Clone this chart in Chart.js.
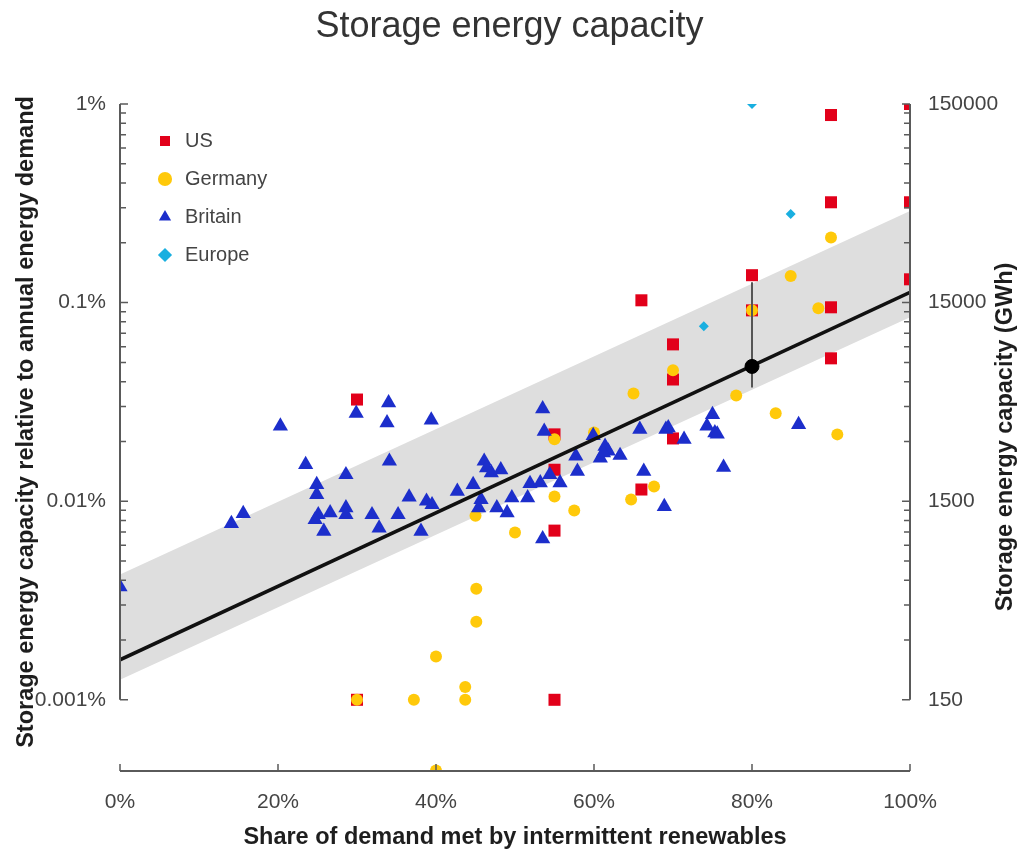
<!DOCTYPE html>
<html><head><meta charset="utf-8">
<script src="https://cdn.jsdelivr.net/npm/chart.js@4"></script>
<style>html,body{margin:0;padding:0;background:#fff}</style>
</head><body>
<canvas id="c" width="1019" height="850"></canvas>
<script>
// ---- data (x = share of demand met by intermittent renewables, %; y = storage capacity, % of annual demand)
const seriesNames = ['US', 'Germany', 'Britain', 'Europe'];

const usX = [30, 30, 55, 55, 55, 55, 66, 66, 70, 70, 70, 80, 80, 90, 90, 90, 90, 100, 100, 100];
const usY = [0.0325, 0.001, 0.0217, 0.0144, 0.00711, 0.001, 0.1027, 0.01145, 0.0616, 0.041, 0.0207, 0.1374, 0.0914, 0.88, 0.32, 0.0947, 0.0524, 1.0, 0.32, 0.131];

const deX = [30, 37.2, 40, 43.7, 43.7, 45.1, 45.1, 40, 45, 50, 55, 55, 57.5, 60, 64.7, 67.6, 65, 70, 78, 83, 88.4, 90.8, 84.9, 90, 80];
const deY = [0.001, 0.001, 0.00165, 0.00116, 0.001, 0.00362, 0.00247, 0.00044, 0.00845, 0.00695, 0.01055, 0.0205, 0.00897, 0.0222, 0.0102, 0.01185, 0.0349, 0.0456, 0.0341, 0.0277, 0.0936, 0.0217, 0.136, 0.213, 0.0914];

const gbX = [0, 14.1, 15.6, 20.3, 23.5, 24.9, 24.9, 25.1, 24.7, 26.6, 25.8, 28.6, 28.6, 28.6, 29.9, 31.9, 32.8, 33.8, 34.0, 34.1, 35.2, 36.6, 38.1, 38.8, 39.5, 39.4, 42.7, 44.7, 45.7, 45.4, 46.1, 46.4, 47.0, 48.2, 47.7, 49.0, 49.6, 51.6, 51.9, 53.2, 53.5, 53.7, 53.5, 54.4, 55.7, 57.7, 57.9, 59.9, 60.8, 61.4, 61.8, 61.2, 63.3, 65.8, 66.3, 68.9, 69.1, 69.4, 71.4, 74.3, 75.0, 75.3, 75.6, 76.4, 85.9];
const gbY = [0.0037, 0.00771, 0.00866, 0.0239, 0.0153, 0.01213, 0.0108, 0.00855, 0.00807, 0.00873, 0.00705, 0.0136, 0.00925, 0.00855, 0.0277, 0.00855, 0.00733, 0.0248, 0.0313, 0.0159, 0.00855, 0.0105, 0.00705, 0.01, 0.0096, 0.0256, 0.01122, 0.01213, 0.0102, 0.00925, 0.0159, 0.0147, 0.0139, 0.0144, 0.00925, 0.00873, 0.0104, 0.0104, 0.01227, 0.01236, 0.0292, 0.0225, 0.00646, 0.0136, 0.01236, 0.01686, 0.01415, 0.0214, 0.0165, 0.0189, 0.01786, 0.0175, 0.017, 0.023, 0.01415, 0.0094, 0.023, 0.0234, 0.0205, 0.0239, 0.0273, 0.0221, 0.0218, 0.0148, 0.0243];

const euX = [80, 84.9, 73.9];
const euY = [1.0, 0.279, 0.076];

// fitted trend and its band (values at 0% and 100%)
const fitX = [0, 100];
const fitY = [0.00159, 0.1127];
const bandUpperY = [0.00427, 0.289];
const bandLowerY = [0.00126, 0.0843];
// highlighted estimate at 80% with its range
const estX = [80];
const estY = [0.0477];
const estRangeY = [0.1265, 0.0374];

// axes
const xTickValues = [0, 20, 40, 60, 80, 100];
const yDecades = [0.001, 0.01, 0.1, 1];          // % of annual demand
const yTickLabels = ['0.001%', '0.01%', '0.1%', '1%'];
const rightTickLabels = ['150', '1500', '15000', '150000'];
const gwhPerPercent = 150000;                    // 1% of annual demand = 150000 GWh
const yMin = 0.000438, yMax = 1;

// ---- helpers
const pts = (xs, ys) => xs.map((x, i) => ({x, y: ys[i]}));
function logTicks(factor) {
  const out = [];
  yDecades.forEach(d => {
    for (let m = 1; m <= 9; m++) {
      const v = d * m;
      if (v <= yMax * 1.0000001) out.push({value: v * factor, major: m === 1});
    }
  });
  return out;
}
const FONT = "'Liberation Sans', Arial, Helvetica, sans-serif";
const C_US = '#e2001a', C_DE = '#ffc90a', C_GB = '#1c2ecb', C_EU = '#19afe0';

const axesPlugin = {
  id: 'customAxes',
  afterLayout(chart) {
    const lg = chart.legend;
    if (lg) { lg.left = chart.chartArea.left + 17; lg.top = chart.chartArea.top + 9; }
  },
  afterDraw(chart) {
    const {ctx, chartArea: a, scales} = chart;
    const y = scales.y, y2 = scales.y2, x = scales.x;
    ctx.save();
    ctx.strokeStyle = '#5a5a5a';
    ctx.lineWidth = 2;
    ctx.lineCap = 'butt';
    const yTop = y.getPixelForValue(yDecades[yDecades.length - 1]);
    const yBot = y.getPixelForValue(yDecades[0]);
    // left & right axis lines
    ctx.beginPath();
    ctx.moveTo(a.left, yTop); ctx.lineTo(a.left, yBot);
    ctx.moveTo(a.right, yTop); ctx.lineTo(a.right, yBot);
    ctx.stroke();
    ctx.lineWidth = 1.5;
    ctx.beginPath();
    y.ticks.forEach(t => {
      const py = y.getPixelForValue(t.value);
      const len = t.major ? 8 : 6;
      ctx.moveTo(a.left, py); ctx.lineTo(a.left + len, py);
    });
    y2.ticks.forEach(t => {
      const py = y2.getPixelForValue(t.value);
      const len = t.major ? 8 : 6;
      ctx.moveTo(a.right, py); ctx.lineTo(a.right - len, py);
    });
    ctx.stroke();
    // bottom axis
    ctx.lineWidth = 2;
    ctx.beginPath();
    ctx.moveTo(a.left, a.bottom); ctx.lineTo(a.right, a.bottom);
    ctx.stroke();
    ctx.lineWidth = 1.5;
    ctx.beginPath();
    x.ticks.forEach(t => {
      const px = x.getPixelForValue(t.value);
      ctx.moveTo(px, a.bottom); ctx.lineTo(px, a.bottom - 7);
    });
    ctx.stroke();
    // vertical axis titles (both read bottom-to-top)
    ctx.fillStyle = '#1e1e1e';
    ctx.font = 'bold 23.5px ' + FONT;
    ctx.textAlign = 'center';
    ctx.textBaseline = 'middle';
    ctx.save();
    ctx.translate(27, 422);
    ctx.rotate(-Math.PI / 2);
    ctx.fillText('Storage energy capacity relative to annual energy demand', 0, 0);
    ctx.restore();
    ctx.save();
    ctx.translate(1006, 437);
    ctx.rotate(-Math.PI / 2);
    ctx.fillText('Storage energy capacity (GWh)', 0, 0);
    ctx.restore();
    ctx.restore();
  }
};

const pointDs = (label, xs, ys, style, color, r, order) => ({
  label, data: pts(xs, ys), pointStyle: style,
  backgroundColor: color, borderColor: color,
  pointBackgroundColor: color, pointBorderColor: color,
  pointRadius: r, pointHoverRadius: r, pointBorderWidth: 0, borderWidth: 0,
  clip: 0, order
});

new Chart(document.getElementById('c'), {
  type: 'scatter',
  data: {
    datasets: [
      pointDs(seriesNames[0], usX, usY, 'rect', C_US, 8.5, 40),
      pointDs(seriesNames[1], deX, deY, 'circle', C_DE, 6, 30),
      pointDs(seriesNames[2], gbX, gbY, 'triangle', C_GB, 8.8, 20),
      pointDs(seriesNames[3], euX, euY, 'rectRot', C_EU, 5, 10),
      { label: 'band upper', data: pts(fitX, bandUpperY), showLine: true, borderWidth: 0,
        borderColor: 'rgba(0,0,0,0)', backgroundColor: '#dedede', pointRadius: 0, fill: '+1', order: 100, clip: 0 },
      { label: 'band lower', data: pts(fitX, bandLowerY), showLine: true, borderWidth: 0,
        borderColor: 'rgba(0,0,0,0)', backgroundColor: '#dedede', pointRadius: 0, fill: false, order: 101, clip: 0 },
      { label: 'range', data: pts([estX[0], estX[0]], estRangeY), showLine: true, borderWidth: 2,
        borderColor: '#555', pointRadius: 0, fill: false, order: 3, clip: 0 },
      { label: 'trend', data: pts(fitX, fitY), showLine: true, borderWidth: 3.5,
        borderColor: '#111', pointRadius: 0, fill: false, order: 2, clip: 0 },
      { label: 'estimate', data: pts(estX, estY), pointStyle: 'circle', pointRadius: 7,
        pointBackgroundColor: '#000', pointBorderColor: '#000', backgroundColor: '#000', borderColor: '#000', order: 1, clip: 0 }
    ]
  },
  options: {
    responsive: false,
    devicePixelRatio: 1,
    animation: false,
    events: [],
    layout: { padding: 0 },
    scales: {
      x: {
        type: 'linear', position: 'bottom', min: 0, max: 100,
        afterBuildTicks: s => { s.ticks = xTickValues.map(v => ({value: v})); },
        afterFit: s => { s.height = 79; },
        grid: { display: false, drawTicks: false },
        border: { display: false },
        ticks: { callback: v => v + '%', font: { family: FONT, size: 21 }, color: '#444', padding: 19, maxRotation: 0, autoSkip: false },
        title: { display: true, text: 'Share of demand met by intermittent renewables', font: { family: FONT, size: 23.5, weight: 'bold' }, color: '#1e1e1e', padding: { top: 0, bottom: -2 } }
      },
      y: {
        type: 'logarithmic', position: 'left', min: yMin, max: yMax,
        afterBuildTicks: s => { s.ticks = logTicks(1); },
        afterFit: s => { s.width = 120; },
        grid: { display: false, drawTicks: false },
        border: { display: false },
        ticks: {
          autoSkip: false, padding: 14, color: '#444', font: { family: FONT, size: 21 },
          callback: (v) => { const i = yDecades.findIndex(d => Math.abs(d - v) / d < 1e-6); return i >= 0 ? yTickLabels[i] : ''; }
        }
      },
      y2: {
        type: 'logarithmic', position: 'right', min: yMin * gwhPerPercent, max: yMax * gwhPerPercent,
        afterBuildTicks: s => { s.ticks = logTicks(gwhPerPercent); },
        afterFit: s => { s.width = 109; },
        grid: { display: false, drawTicks: false },
        border: { display: false },
        ticks: {
          autoSkip: false, padding: 18, color: '#444', font: { family: FONT, size: 21 },
          callback: (v) => { const i = yDecades.findIndex(d => Math.abs(d * gwhPerPercent - v) / v < 1e-6); return i >= 0 ? rightTickLabels[i] : ''; }
        }
      }
    },
    plugins: {
      title: { display: true, text: 'Storage energy capacity', color: '#333', font: { family: FONT, size: 36, weight: 'normal' }, padding: { top: 5, bottom: 55.8 } },
      legend: {
        position: 'chartArea', align: 'start',
        labels: {
          usePointStyle: true, boxWidth: 20, boxHeight: 10, padding: 18, color: '#444',
          font: { family: FONT, size: 20 },
          filter: item => item.datasetIndex < seriesNames.length,
          sort: (a, b) => a.datasetIndex - b.datasetIndex
        }
      },
      tooltip: { enabled: false }
    }
  },
  plugins: [axesPlugin]
});
</script>
</body></html>
